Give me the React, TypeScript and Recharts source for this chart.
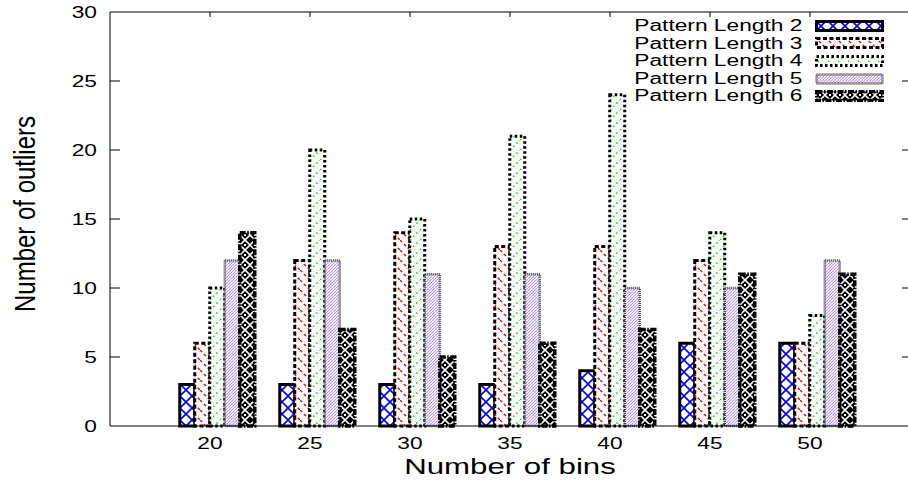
import { BarChart, Bar, XAxis, YAxis, ReferenceLine } from "recharts"

const BINS = ["20", "25", "30", "35", "40", "45", "50"]
const LEN2 = [3, 3, 3, 3, 4, 6, 6]
const LEN3 = [6, 12, 14, 13, 13, 12, 6]
const LEN4 = [10, 20, 15, 21, 24, 14, 8]
const LEN5 = [12, 12, 11, 11, 10, 10, 12]
const LEN6 = [14, 7, 5, 6, 7, 11, 11]
const Y_TICKS = [0, 5, 10, 15, 20, 25, 30]

const SERIES = [
  { key: "len2", name: "Pattern Length 2", values: LEN2 },
  { key: "len3", name: "Pattern Length 3", values: LEN3 },
  { key: "len4", name: "Pattern Length 4", values: LEN4 },
  { key: "len5", name: "Pattern Length 5", values: LEN5 },
  { key: "len6", name: "Pattern Length 6", values: LEN6 },
]

// gnuplot-ish fill patterns + border styles per series
const STYLES: Record<string, { fill: string; stroke: string; strokeWidth: number; dash?: string }> = {
  len2: { fill: "url(#pat2)", stroke: "#000", strokeWidth: 3 },
  len3: { fill: "url(#pat3)", stroke: "#000", strokeWidth: 3, dash: "4 2.5" },
  len4: { fill: "url(#pat4)", stroke: "#000", strokeWidth: 3, dash: "2.5 2.5" },
  len5: { fill: "url(#pat5)", stroke: "#444", strokeWidth: 2.5, dash: "1 1" },
  len6: { fill: "url(#pat6)", stroke: "#000", strokeWidth: 3.5, dash: "6 1.5 1.5 1.5" },
}

const data = BINS.map((bin, i) => {
  const row: Record<string, string | number> = { bin }
  SERIES.forEach((s) => (row[s.key] = s.values[i]))
  return row
})

const FONT = "'Liberation Sans', Arial, Helvetica, sans-serif"
const SX = 1.42 // the original image is stretched horizontally
const PLOT_LEFT = 110
const PLOT_RIGHT = 912
const PLOT_TOP = 12
const PLOT_BOTTOM = 426
const TICK_SHIFT = -6 // labels sit a bit left of the cluster centre

function XTick(props: any) {
  const { x, payload } = props
  const cx = x + TICK_SHIFT
  return (
    <g>
      <line x1={cx} x2={cx} y1={PLOT_BOTTOM} y2={PLOT_BOTTOM - 5} stroke="#000" />
      <line x1={cx} x2={cx} y1={PLOT_TOP} y2={PLOT_TOP + 5} stroke="#000" />
      <text transform={`translate(${cx},449) scale(${SX},1)`} textAnchor="middle" fontSize={16} fontFamily={FONT} fill="#000">
        {payload.value}
      </text>
    </g>
  )
}

function YTick(props: any) {
  const { y, payload } = props
  const edge = payload.value === 0 || payload.value === 30
  return (
    <g>
      {!edge && <line x1={PLOT_LEFT} x2={PLOT_LEFT + 10} y1={y} y2={y} stroke="#000" />}
      {!edge && <line x1={PLOT_RIGHT - 10} x2={PLOT_RIGHT} y1={y} y2={y} stroke="#000" />}
      <text transform={`translate(97,${y + 6}) scale(${SX},1)`} textAnchor="end" fontSize={16} fontFamily={FONT} fill="#000">
        {payload.value}
      </text>
    </g>
  )
}

function Swatch({ k }: { k: string }) {
  const s = STYLES[k]
  return (
    <svg width={69} height={12} style={{ display: "block" }}>
      <rect x={1.5} y={1.5} width={66} height={9} fill={s.fill} stroke={s.stroke} strokeWidth={s.strokeWidth} strokeDasharray={s.dash} />
    </svg>
  )
}

function LegendBox() {
  return (
    <div style={{ position: "absolute", top: 17, left: 0, width: 884, fontFamily: FONT }}>
      {SERIES.map((s) => (
        <div key={s.key} style={{ display: "flex", justifyContent: "flex-end", alignItems: "center", height: 17.6 }}>
          <span style={{ fontSize: 16, lineHeight: "17.6px", color: "#000", display: "inline-block", transform: `scaleX(${SX})`, transformOrigin: "right center", whiteSpace: "nowrap" }}>
            {s.name}
          </span>
          <div style={{ marginLeft: 13 }}>
            <Swatch k={s.key} />
          </div>
        </div>
      ))}
    </div>
  )
}

export default function App() {
  return (
    <div style={{ position: "absolute", left: 0, top: 0, width: 908, height: 483, overflow: "hidden", background: "#fff" }}>
      <BarChart width={912} height={483} data={data} margin={{ top: PLOT_TOP, right: 0, left: 0, bottom: 0 }} barGap={0} barCategoryGap="13.75%">
        <defs>
          <pattern id="pat2" patternUnits="userSpaceOnUse" width={12} height={12}>
            <rect width={12} height={12} fill="#fff" />
            <path d="M0,0 L12,12 M12,0 L0,12" stroke="#0000ff" strokeWidth={1.6} />
          </pattern>
          <pattern id="pat3" patternUnits="userSpaceOnUse" width={10} height={10}>
            <rect width={10} height={10} fill="#fff" />
            <line x1={0} y1={0} x2={10} y2={10} stroke="#ff0000" strokeWidth={1.4} strokeDasharray="3 2.5" />
          </pattern>
          <pattern id="pat4" patternUnits="userSpaceOnUse" width={10} height={10}>
            <rect width={10} height={10} fill="#fff" />
            <line x1={0} y1={10} x2={10} y2={0} stroke="#00dd00" strokeWidth={1.5} strokeDasharray="1.5 3" />
          </pattern>
          <pattern id="pat5" patternUnits="userSpaceOnUse" width={3} height={3}>
            <rect width={3} height={3} fill="#fff" />
            <line x1={0} y1={3} x2={3} y2={0} stroke="#b898f0" strokeWidth={1.1} />
          </pattern>
          <pattern id="pat6" patternUnits="userSpaceOnUse" width={10} height={10}>
            <rect width={10} height={10} fill="#000" />
            <path d="M0,5 L5,0 L10,5 L5,10 Z" stroke="#fff" strokeWidth={1.6} fill="none" />
            <rect x={4} y={4} width={2} height={2} fill="#fff" />
          </pattern>
        </defs>
        <XAxis
          dataKey="bin"
          height={57}
          padding={{ left: 56, right: 46 }}
          axisLine={{ stroke: "#000" }}
          tickLine={false}
          tick={<XTick />}
          interval={0}
          label={{
            content: () => (
              <text transform={`translate(510,474) scale(${SX},1)`} textAnchor="middle" fontSize={22} fontFamily={FONT} fill="#000">
                Number of bins
              </text>
            ),
          }}
        />
        <YAxis
          width={PLOT_LEFT}
          domain={[0, 30]}
          ticks={Y_TICKS}
          interval={0}
          axisLine={{ stroke: "#000" }}
          tickLine={false}
          tick={<YTick />}
          label={{
            content: () => (
              <text transform="translate(35,214) scale(1.25,1) rotate(-90)" textAnchor="middle" fontSize={24} fontFamily={FONT} fill="#000">
                Number of outliers
              </text>
            ),
          }}
        />
        <ReferenceLine y={30} stroke="#000" strokeWidth={1} />
        {SERIES.map((s) => {
          const st = STYLES[s.key]
          return (
            <Bar
              key={s.key}
              dataKey={s.key}
              name={s.name}
              fill={st.fill}
              stroke={st.stroke}
              strokeWidth={st.strokeWidth}
              strokeDasharray={st.dash}
              isAnimationActive={false}
            />
          )
        })}
      </BarChart>
      <LegendBox />
    </div>
  )
}
